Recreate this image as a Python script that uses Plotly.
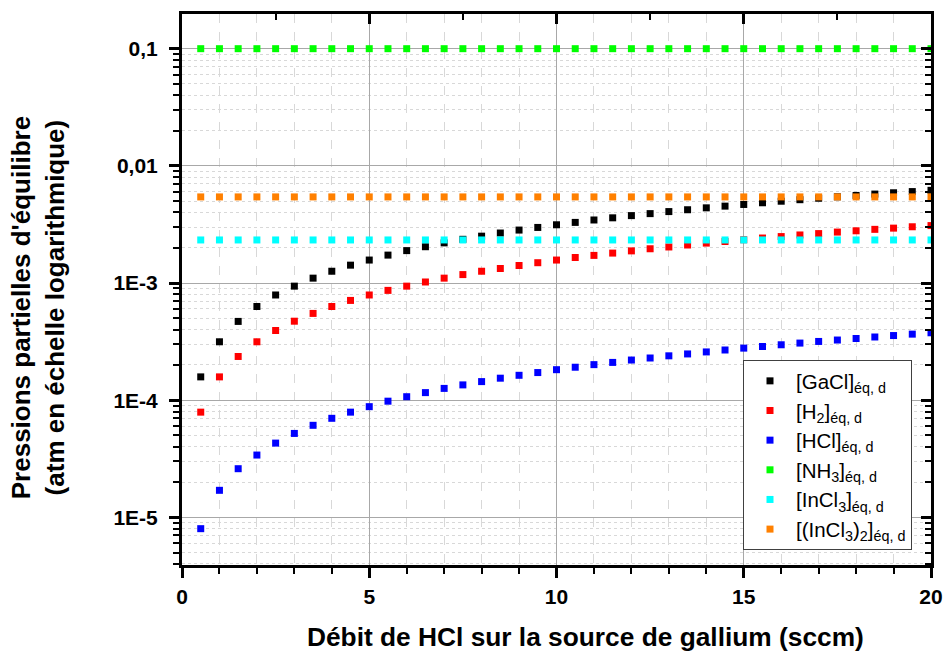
import plotly.graph_objects as go

debit_hcl = [0.5, 1, 1.5, 2, 2.5, 3, 3.5, 4, 4.5, 5, 5.5, 6, 6.5, 7, 7.5, 8, 8.5, 9, 9.5, 10,
             10.5, 11, 11.5, 12, 12.5, 13, 13.5, 14, 14.5, 15, 15.5, 16, 16.5, 17, 17.5, 18, 18.5, 19, 19.5, 20]

gacl = [1.58e-4, 3.15e-4, 4.7e-4, 6.3e-4, 7.9e-4, 9.4e-4, 1.10e-3, 1.26e-3, 1.42e-3, 1.57e-3,
        1.73e-3, 1.89e-3, 2.04e-3, 2.20e-3, 2.36e-3, 2.51e-3, 2.67e-3, 2.83e-3, 2.98e-3, 3.14e-3,
        3.29e-3, 3.45e-3, 3.60e-3, 3.76e-3, 3.91e-3, 4.07e-3, 4.22e-3, 4.38e-3, 4.53e-3, 4.68e-3,
        4.84e-3, 4.99e-3, 5.14e-3, 5.29e-3, 5.44e-3, 5.59e-3, 5.74e-3, 5.89e-3, 6.03e-3, 6.18e-3]

h2 = [7.9e-5, 1.58e-4, 2.36e-4, 3.15e-4, 3.93e-4, 4.72e-4, 5.5e-4, 6.3e-4, 7.1e-4, 7.9e-4,
      8.65e-4, 9.4e-4, 1.02e-3, 1.10e-3, 1.18e-3, 1.26e-3, 1.33e-3, 1.41e-3, 1.49e-3, 1.57e-3,
      1.65e-3, 1.72e-3, 1.80e-3, 1.88e-3, 1.96e-3, 2.03e-3, 2.11e-3, 2.19e-3, 2.26e-3, 2.34e-3,
      2.42e-3, 2.49e-3, 2.57e-3, 2.64e-3, 2.72e-3, 2.79e-3, 2.87e-3, 2.94e-3, 3.02e-3, 3.09e-3]

hcl = [8.0e-6, 1.7e-5, 2.6e-5, 3.4e-5, 4.3e-5, 5.2e-5, 6.1e-5, 7.0e-5, 7.9e-5, 8.8e-5,
       9.8e-5, 1.07e-4, 1.16e-4, 1.26e-4, 1.35e-4, 1.44e-4, 1.54e-4, 1.63e-4, 1.72e-4, 1.82e-4,
       1.91e-4, 2.01e-4, 2.10e-4, 2.20e-4, 2.29e-4, 2.39e-4, 2.48e-4, 2.58e-4, 2.68e-4, 2.78e-4,
       2.87e-4, 2.97e-4, 3.07e-4, 3.17e-4, 3.26e-4, 3.36e-4, 3.46e-4, 3.56e-4, 3.66e-4, 3.76e-4]

nh3 = [0.1] * 40
incl3 = [2.33e-3] * 40
incl3_2 = [5.43e-3] * 40

series_names = [
    "[GaCl]<sub>éq, d</sub>",
    "[H<sub>2</sub>]<sub>éq, d</sub>",
    "[HCl]<sub>éq, d</sub>",
    "[NH<sub>3</sub>]<sub>éq, d</sub>",
    "[InCl<sub>3</sub>]<sub>éq, d</sub>",
    "[(InCl<sub>3</sub>)<sub>2</sub>]<sub>éq, d</sub>",
]
series_values = [gacl, h2, hcl, nh3, incl3, incl3_2]
series_colors = ["#000000", "#FF0000", "#0000FF", "#00FF00", "#00FFFF", "#FF8000"]

y_tickvals = [1e-5, 1e-4, 1e-3, 1e-2, 1e-1]
y_ticktext = ["1E-5", "1E-4", "1E-3", "0,01", "0,1"]
y_minor = [m * 10.0 ** e for e in range(-6, 0) for m in range(2, 10)]

FONT = "Liberation Sans, Arial, sans-serif"

fig = go.Figure()
for name, vals, col in zip(series_names, series_values, series_colors):
    fig.add_trace(go.Scatter(
        x=debit_hcl, y=vals, mode="markers", name=name,
        marker=dict(symbol="square", size=7, color=col, line=dict(width=0)),
    ))

# invisible trace for mirrored tick axes
fig.add_trace(go.Scatter(x=[None], y=[None], xaxis="x2", yaxis="y2",
                         showlegend=False, hoverinfo="skip"))

yr = [-5.407, -0.704]
W = 749.0

fig.update_layout(
    width=946, height=652, autosize=False,
    margin=dict(l=182, r=15, t=14, b=87, autoexpand=False),
    paper_bgcolor="white", plot_bgcolor="white",
    font=dict(family=FONT, color="black"),
    showlegend=True,
    legend=dict(
        x=(743 - 182) / W, y=0.372, xanchor="left", yanchor="top",
        bgcolor="white", bordercolor="#404040", borderwidth=1,
        font=dict(family=FONT, size=20.5, color="black"),
        itemwidth=42,
    ),
    xaxis=dict(
        range=[0, 20], dtick=5, tick0=0,
        showline=True, linewidth=3, linecolor="black", mirror=True,
        ticks="outside", ticklen=10, tickwidth=3, tickcolor="black",
        tickfont=dict(family=FONT, size=21, weight="bold"),
        ticklabelstandoff=1,
        showgrid=True, gridcolor="#a8a8a8", gridwidth=1,
        zeroline=False,
        minor=dict(dtick=1, tick0=0, ticks="outside", ticklen=6, tickwidth=2, tickcolor="black",
                   showgrid=True, gridcolor="#d8d8d8", griddash="dash", gridwidth=1),
    ),
    yaxis=dict(
        type="log", range=yr,
        tickvals=y_tickvals, ticktext=y_ticktext,
        showline=True, linewidth=3, linecolor="black", mirror=True,
        ticks="outside", ticklen=10, tickwidth=3, tickcolor="black",
        tickfont=dict(family=FONT, size=21, weight="bold"),
        ticklabelstandoff=7,
        showgrid=True, gridcolor="#a8a8a8", gridwidth=1,
        zeroline=False,
        minor=dict(tickvals=y_minor, ticks="outside", ticklen=6, tickwidth=2, tickcolor="black",
                   showgrid=True, gridcolor="#d8d8d8", griddash="dot", gridwidth=1),
    ),
    xaxis2=dict(
        overlaying="x", side="top", anchor="y2", range=[0, 20], dtick=5, tick0=0,
        showticklabels=False, showgrid=False, showline=False, zeroline=False,
        ticks="inside", ticklen=10, tickwidth=3, tickcolor="black",
        minor=dict(dtick=2.5, tick0=0, ticks="inside", ticklen=6, tickwidth=2, tickcolor="black", showgrid=False),
    ),
    yaxis2=dict(
        overlaying="y", side="right", anchor="x2", type="log", range=yr,
        tickvals=y_tickvals, showticklabels=False, showgrid=False, showline=False, zeroline=False,
        ticks="inside", ticklen=10, tickwidth=3, tickcolor="black",
        minor=dict(tickvals=y_minor, ticks="inside", ticklen=6, tickwidth=2, tickcolor="black", showgrid=False),
    ),
    annotations=[
        dict(text="Pressions partielles d'équilibre<br>(atm en échelle logarithmique)",
             xref="paper", yref="paper", x=(38 - 182) / W, y=0.466, xanchor="center", yanchor="middle",
             textangle=-90, showarrow=False,
             font=dict(family=FONT, size=26, weight="bold", color="black")),
        dict(text="Débit de HCl sur la source de gallium (sccm)",
             xref="paper", yref="paper", x=(585 - 182) / W, y=-0.131, xanchor="center", yanchor="middle",
             showarrow=False,
             font=dict(family=FONT, size=26.3, weight="bold", color="black")),
    ],
)

fig.write_html("out.html",
               config={"displayModeBar": False, "responsive": False},
               post_script="document.body.style.margin='0';document.body.style.padding='0';document.body.style.overflow='hidden';")
